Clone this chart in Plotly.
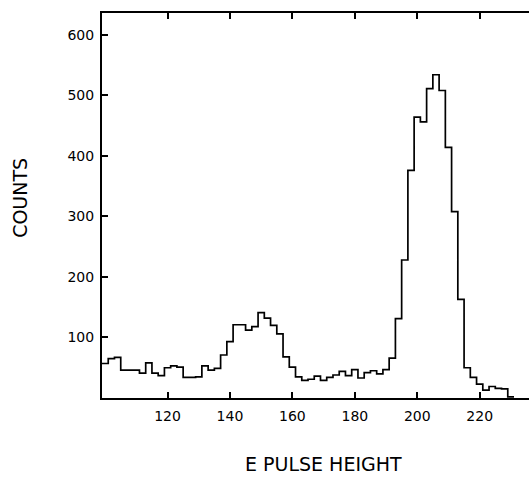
import plotly.graph_objects as go

# Channel centres (E pulse height, 2-channel bins) and counts per bin
bin_centers = list(range(100, 232, 2))
counts = [
    57, 65, 67, 46, 46, 46, 41, 58, 41, 37,
    50, 53, 51, 34, 34, 35, 53, 46, 49, 71,
    93, 121, 121, 112, 118, 141, 132, 120, 106, 68,
    51, 35, 29, 31, 36, 29, 34, 38, 44, 37,
    47, 33, 42, 45, 40, 47, 66, 131, 228, 376,
    464, 456, 511, 534, 508, 414, 308, 163, 50, 34,
    23, 13, 19, 16, 15, 2,
]
bin_width = 2

x_ticks = [120, 140, 160, 180, 200, 220]
y_ticks = [100, 200, 300, 400, 500, 600]

# Step outline: left edges of every bin plus the closing right edge
edges = [c - bin_width / 2 for c in bin_centers] + [bin_centers[-1] + bin_width / 2]
step_y = counts + [counts[-1]]

fig = go.Figure()
fig.add_trace(go.Scatter(
    x=edges, y=step_y, mode="lines",
    line=dict(color="black", width=1.7, shape="hv"),
    showlegend=False, hoverinfo="skip",
))

font = "DejaVu Sans"
fig.update_layout(
    width=529, height=479,
    margin=dict(l=102, r=0, t=13, b=81),
    paper_bgcolor="white", plot_bgcolor="white",
    font=dict(family=font, color="black", size=14),
    xaxis=dict(
        range=[99, 235.8], showgrid=False, zeroline=False,
        showline=True, linecolor="black", linewidth=2, mirror="ticks",
        ticks="inside", ticklen=6, tickwidth=2, tickcolor="black",
        tickvals=x_ticks, ticktext=[str(v) for v in x_ticks],
        tickfont=dict(size=14), ticklabelstandoff=4,
    ),
    yaxis=dict(
        range=[0, 636], showgrid=False, zeroline=False,
        showline=True, linecolor="black", linewidth=2,
        ticks="inside", ticklen=6, tickwidth=2, tickcolor="black",
        tickvals=y_ticks, ticktext=[str(v) for v in y_ticks],
        tickfont=dict(size=14), ticklabelstandoff=3,
    ),
    annotations=[
        dict(text="COUNTS", xref="paper", yref="paper",
             x=-0.191, y=0.521, textangle=-90, showarrow=False,
             font=dict(size=19, family=font), xanchor="center", yanchor="middle"),
        dict(text="E PULSE HEIGHT", xref="paper", yref="paper",
             x=0.518, y=-0.172, showarrow=False,
             font=dict(size=19, family=font), xanchor="center", yanchor="middle"),
    ],
)

fig.write_html("out.html")
